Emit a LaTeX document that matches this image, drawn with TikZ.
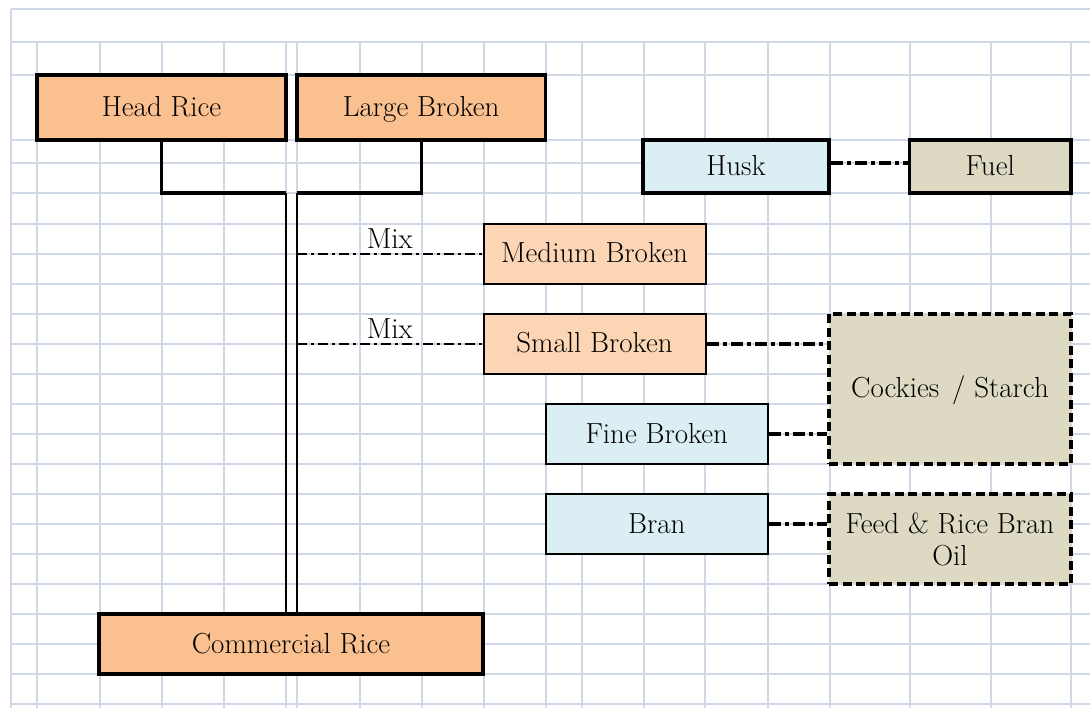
\documentclass[tikz,border=0pt]{standalone}
\definecolor{gridc}{RGB}{208,215,229}
\definecolor{peach}{RGB}{250,192,143}
\definecolor{lightpeach}{RGB}{252,214,180}
\definecolor{paleblue}{RGB}{219,238,243}
\definecolor{tanfill}{RGB}{221,217,195}
\begin{document}
\begin{tikzpicture}[x=1pt,y=-1pt,
  every node/.style={font=\fontsize{29}{32}\selectfont, inner sep=0pt, align=center},
  oneline/.style={text height=24pt, text depth=6pt},
  gridline/.style={draw=gridc, line width=2pt},
  heavybox/.style={draw=black, line width=3.5pt, oneline},
  lightbox/.style={draw=black, line width=2pt, oneline},
  dashbox/.style={draw=black, line width=3.5pt, dash pattern=on 9pt off 4.5pt, fill=tanfill},
  heavy/.style={draw=black, line width=3.5pt},
  rail/.style={draw=black, line width=1.6pt},
  mixline/.style={draw=black, line width=1.2pt, dash pattern=on 10pt off 4pt on 3pt off 4pt},
  linkline/.style={draw=black, line width=3.5pt, dash pattern=on 12pt off 4pt on 4pt off 4pt}]

\useasboundingbox (0,0) rectangle (1090,708);
\fill[white] (0,0) rectangle (1090,708);

% worksheet grid
\draw[gridline] (11,9) -- (11,708);
\foreach \gx in {37,99.5,161.5,223.5,286,297,359.5,421.5,483.5,545.5,582,643.5,705,767.5,829.5,910,990.5,1071}
  \draw[gridline] (\gx,42) -- (\gx,708);
\foreach \gy in {9,42,75,140.5,163.5,193.5,224,254,284,314,344,374,404,434,464,494,524,554,584,614,644,674,704}
  \draw[gridline] (11,\gy) -- (1090,\gy);

% boxes
\node[heavybox, fill=peach, minimum width=249pt, minimum height=65pt] (head) at (161.5,107.5) {Head Rice};
\node[heavybox, fill=peach, minimum width=248.5pt, minimum height=65pt] (large) at (421.25,107.5) {Large Broken};
\node[heavybox, fill=paleblue, minimum width=186pt, minimum height=53pt] (husk) at (736,166.5) {Husk};
\node[heavybox, fill=tanfill, minimum width=161.5pt, minimum height=53pt] (fuel) at (990.25,166.5) {Fuel};
\node[lightbox, fill=lightpeach, minimum width=222pt, minimum height=60pt] (medium) at (594.5,254) {Medium Broken};
\node[lightbox, fill=lightpeach, minimum width=222pt, minimum height=60pt] (small) at (594.5,344) {Small Broken};
\node[lightbox, fill=paleblue, minimum width=221.5pt, minimum height=60pt] (fine) at (656.75,434) {Fine Broken};
\node[lightbox, fill=paleblue, minimum width=221.5pt, minimum height=60pt] (bran) at (656.75,524) {Bran};
\node[dashbox, oneline, minimum width=242pt, minimum height=150pt] (cookies) at (950,389) {Cockies\hspace{0.45em}/ Starch};
\node[dashbox, minimum width=242pt, minimum height=90pt] (feed) at (950,539) {Feed \& Rice Bran\\Oil};
\node[heavybox, fill=peach, minimum width=384pt, minimum height=60pt] (commercial) at (291,644) {Commercial Rice};

% joining the head rice and large broken fractions
\coordinate (jl) at (286,193);
\coordinate (jr) at (297,193);
\draw[heavy] (head.south) |- (jl);
\draw[heavy] (large.south) |- (jr);
\draw[rail] (jl) -- (jl |- commercial.north);
\draw[rail] (jr) -- (jr |- commercial.north);

% mixing branches
\draw[mixline] (jr |- medium.west) -- node[above=5pt] {Mix} (medium.west);
\draw[mixline] (jr |- small.west) -- node[above=5pt] {Mix} (small.west);

% by-product uses
\draw[linkline] ([yshift=3.5pt]husk.east) -- ([yshift=3.5pt]fuel.west);
\draw[linkline] (small.east) -- (small.east -| cookies.west);
\draw[linkline] (fine.east) -- (fine.east -| cookies.west);
\draw[linkline] (bran.east) -- (bran.east -| feed.west);
\end{tikzpicture}
\end{document}
